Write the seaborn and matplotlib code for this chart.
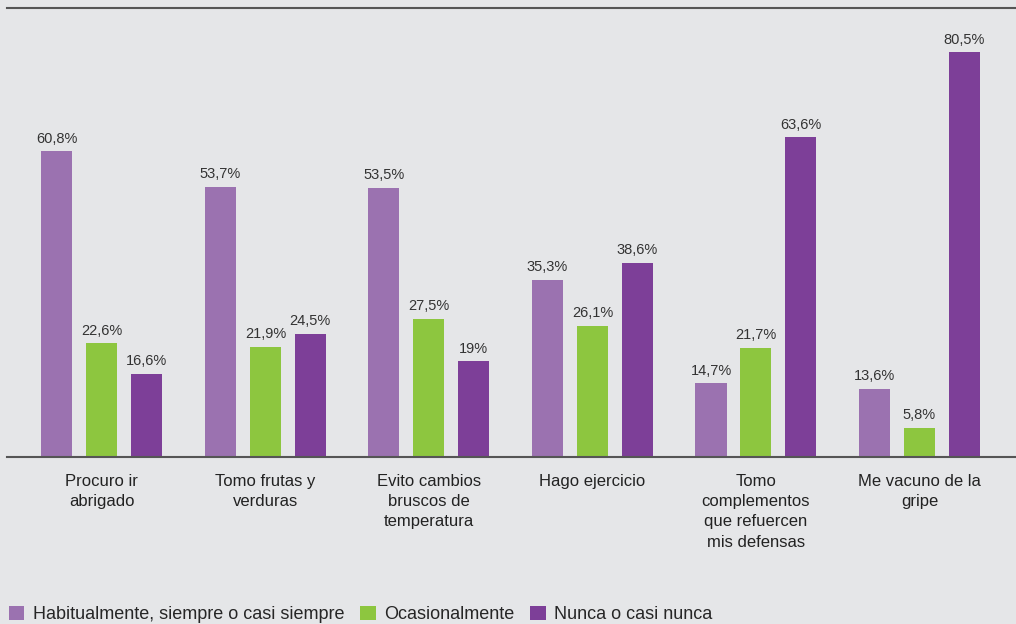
import pandas as pd
import matplotlib.pyplot as plt
import seaborn as sns

# Values (percent)
categorias = [
    "Procuro ir\nabrigado",
    "Tomo frutas y\nverduras",
    "Evito cambios\nbruscos de\ntemperatura",
    "Hago ejercicio",
    "Tomo\ncomplementos\nque refuercen\nmis defensas",
    "Me vacuno de la\ngripe",
]
series = [
    "Habitualmente, siempre o casi siempre",
    "Ocasionalmente",
    "Nunca o casi nunca",
]
habitualmente = [60.8, 53.7, 53.5, 35.3, 14.7, 13.6]
ocasionalmente = [22.6, 21.9, 27.5, 26.1, 21.7, 5.8]
nunca = [16.6, 24.5, 19.0, 38.6, 63.6, 80.5]

colores = ["#9b72b0", "#8dc63f", "#7d3f98"]
fondo = "#e5e6e8"

df = pd.DataFrame({
    "categoria": categorias * 3,
    "serie": [series[0]] * 6 + [series[1]] * 6 + [series[2]] * 6,
    "valor": habitualmente + ocasionalmente + nunca,
})

sns.set_style("white")
plt.rcParams["font.family"] = ["Liberation Sans Narrow", "Liberation Sans", "DejaVu Sans"]

fig = plt.figure(figsize=(10.16, 6.24), dpi=100, facecolor=fondo)
ax = fig.add_axes([7 / 1016, (624 - 457) / 624, 1009 / 1016, (457 - 8) / 624])
ax.set_facecolor(fondo)

sns.barplot(data=df, x="categoria", y="valor", hue="serie", order=categorias,
            hue_order=series, palette=colores, width=0.825, gap=0.31,
            saturation=1, linewidth=0, edgecolor="none", ax=ax, legend=True)

for cont in ax.containers:
    etiquetas = [f"{b.get_height():g}".replace(".", ",") + "%" for b in cont]
    ax.bar_label(cont, labels=etiquetas, padding=4, fontsize=10.5, color="#333333")

ax.set_xlim(-0.58, 5.59)
ax.set_ylim(0, 89.3)
ax.set_xlabel("")
ax.set_ylabel("")
ax.set_yticks([])
ax.tick_params(axis="x", length=0, pad=12, labelsize=12, labelcolor="#222222")
for lab in ax.get_xticklabels():
    lab.set_linespacing(1.45)
    lab.set_verticalalignment("top")

for s in ["left", "right"]:
    ax.spines[s].set_visible(False)
for s in ["top", "bottom"]:
    ax.spines[s].set_visible(True)
    ax.spines[s].set_color("#555555")
    ax.spines[s].set_linewidth(1.5)

handles, labels = ax.get_legend_handles_labels()
ax.get_legend().remove()
fig.legend(handles, labels, loc="lower left", bbox_to_anchor=(-0.007, -0.025), ncol=3,
           frameon=False, fontsize=13, handlelength=0.85, handleheight=0.85,
           handletextpad=0.45, columnspacing=0.9)

fig.savefig("out.png", dpi=100, facecolor=fondo)
